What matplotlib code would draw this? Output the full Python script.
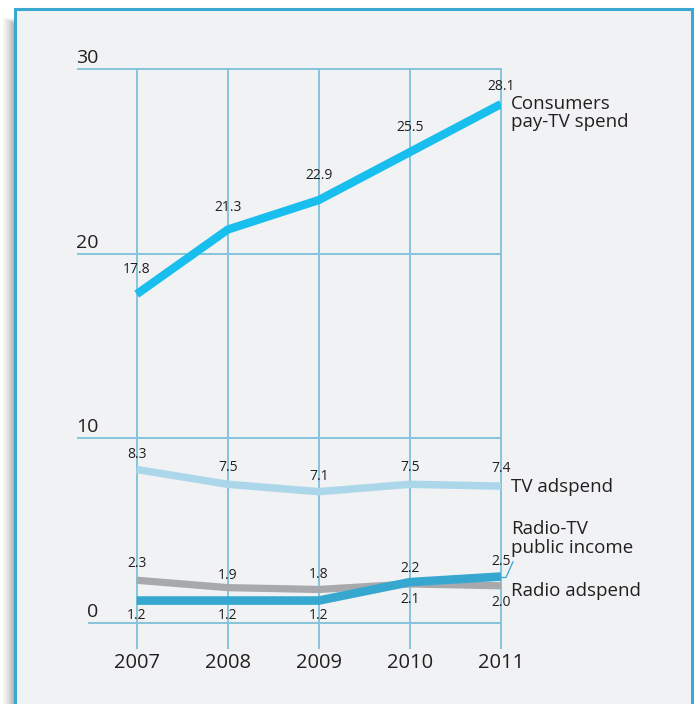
import matplotlib.pyplot as plt
from matplotlib.patches import Rectangle

plt.rcParams['font.family'] = ['Open Sans', 'DejaVu Sans']

years = [2007, 2008, 2009, 2010, 2011]
pay_tv = [17.8, 21.3, 22.9, 25.5, 28.1]
tv_ad = [8.3, 7.5, 7.1, 7.5, 7.4]
radio_ad = [2.3, 1.9, 1.8, 2.1, 2.0]
public_inc = [1.2, 1.2, 1.2, 2.2, 2.5]
yticks = [0, 10, 20, 30]

txt = '#231f20'
grid_c = '#86c4dd'
frame_c = '#3aa9d1'

W, H = 696, 704
fig = plt.figure(figsize=(W / 100, H / 100), dpi=100)
fig.patch.set_facecolor('white')

# shadow on the left of the panel
for i, a in enumerate([0.04, 0.04, 0.05, 0.06, 0.07, 0.08]):
    off = 12 - i * 2
    fig.patches.append(Rectangle(((15 - off) / W, 0), (off + 2) / W, (H - 18 - i) / H,
                                 transform=fig.transFigure, facecolor='black',
                                 alpha=a, edgecolor='none', zorder=-3))
# panel with frame
fig.patches.append(Rectangle((15 / W, -0.05), 677 / W, (H - 9) / H + 0.05,
                             transform=fig.transFigure, facecolor='#f1f2f4',
                             edgecolor=frame_c, linewidth=2.2, zorder=-2))

# axes placed so that data maps to the pixel grid
px_x = (501 - 136.7) / 4
px_y = (622.7 - 69) / 30
x0 = 2007 - (136.7 - 78) / px_x
y0 = 0 - (648 - 622.7) / px_y
ax = fig.add_axes([78 / W, (H - 648) / H, (501 - 78) / W, (648 - 69) / H])
ax.set_xlim(x0, 2011)
ax.set_ylim(y0, 30)
ax.axis('off')

# grid
for v in yticks:
    xs = 2007 - (136.7 - 89) / px_x if v == 0 else x0
    ax.plot([xs, 2011], [v, v], color=grid_c, lw=1.4, clip_on=False, zorder=1)
    ax.text(xs - 0.02, v + 0.1, str(v), ha='left', va='bottom', fontsize=14, color=txt)
for yr in years:
    ax.plot([yr, yr], [y0, 30], color=grid_c, lw=1.4, clip_on=False, zorder=1)
    ax.text(yr, -2.2, str(yr), ha='center', va='center', fontsize=14.5, color=txt)

ax.plot(years, public_inc, color='#36a8d0', lw=6.2, solid_capstyle='butt', zorder=3)
ax.plot(years, radio_ad, color='#a7a9ac', lw=5.2, solid_capstyle='butt', zorder=2.5)
ax.plot(years, tv_ad, color='#acd7ea', lw=5.4, solid_capstyle='butt', zorder=3)
ax.plot(years, pay_tv, color='#18bfee', lw=6.0, solid_capstyle='butt', zorder=3)


def labels(vals, dys):
    for x, v, dy in zip(years, vals, dys):
        ax.annotate(f'{v:.1f}', (x, v), xytext=(0, dy), textcoords='offset points',
                    ha='center', va='center', fontsize=10, color=txt, zorder=5)


labels(pay_tv, [18, 16, 18, 18, 13])
labels(tv_ad, [11, 12, 11, 12, 13])
labels(radio_ad, [12, 9, 10.5, -11, -12])
labels(public_inc, [-11, -11, -11, 10, 11])

# series names
lx = 2011 + 10 / px_x
ax.text(lx, pay_tv[-1] - 0.5, 'Consumers\npay-TV spend', ha='left', va='center',
        fontsize=13.5, color=txt, linespacing=1.02)
ax.text(lx, tv_ad[-1] - 0.05, 'TV adspend', ha='left', va='center', fontsize=13.5, color=txt)
ax.text(lx, 4.56, 'Radio-TV\npublic income', ha='left', va='center', fontsize=13.5,
        color=txt, linespacing=1.02)
ax.text(lx, 1.73, 'Radio adspend', ha='left', va='center', fontsize=13.5, color=txt)
ax.plot([2011, 2011 + 5 / px_x, 2011 + 12 / px_x],
        [public_inc[-1] - 0.05, public_inc[-1] - 0.05, 3.3],
        color='#36a8d0', lw=0.9, clip_on=False, zorder=4)

fig.savefig('out.png', dpi=100)
